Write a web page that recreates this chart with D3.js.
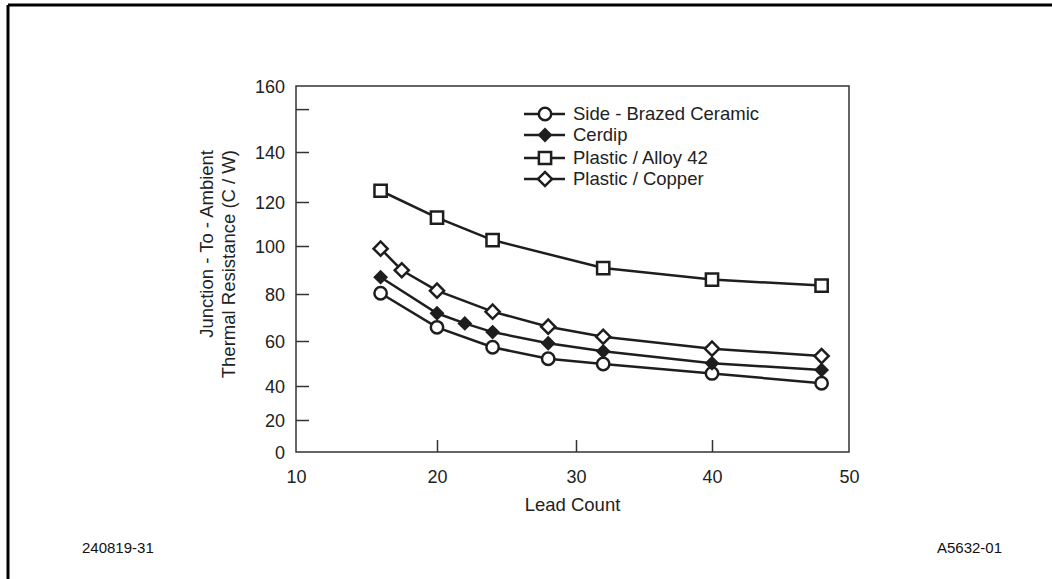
<!DOCTYPE html>
<html>
<head>
<meta charset="utf-8">
<script src="https://cdn.jsdelivr.net/npm/d3@7"></script>
<style>
  body { margin: 0; background: #fff; }
  svg { display: block; font-family: 'Liberation Sans', Arial, sans-serif; }
</style>
</head>
<body>
<script>
// lead counts and thermal resistance (C / W)
let ceramicLeads = [16, 20, 24, 28, 32, 40, 48]
let ceramicVals = [80.3, 65.8, 57.2, 52.1, 49.8, 45.6, 41.2]

let cerdipLeads = [16, 20, 22, 24, 28, 32, 40, 48]
let cerdipVals = [87, 71.8, 67.5, 63.8, 59, 55.4, 50.1, 47.1]

let alloyLeads = [16, 20, 24, 32, 40, 48]
let alloyVals = [124.5, 112.9, 102.7, 90.8, 86, 83.5]

let copperLeads = [16, 17.5, 20, 24, 28, 32, 40, 48]
let copperVals = [98.9, 89.9, 81.4, 72.5, 66.1, 61.8, 56.6, 53.3]

let seriesNames = ['Side - Brazed Ceramic', 'Cerdip', 'Plastic / Alloy 42', 'Plastic / Copper']

let xTicks = [10, 20, 30, 40, 50]
let yTicks = [0, 20, 40, 60, 80, 100, 120, 140, 160]
let yExtraTick = 153

let width = 1052,
  height = 579

let svg = d3.select('body')
  .append('svg')
  .attr('width', width)
  .attr('height', height)

let ink = '#1e1e1e'

// page frame (only top and left edges show)
svg.append('line')
  .attr('x1', 8).attr('x2', width).attr('y1', 5).attr('y2', 5)
  .attr('stroke', '#000').attr('stroke-width', 3)
svg.append('line')
  .attr('x1', 8).attr('x2', 8).attr('y1', 5).attr('y2', height)
  .attr('stroke', '#000').attr('stroke-width', 3)

// the original axes are hand drawn, tick spacing is not even
let x = d3.scaleLinear()
  .domain(xTicks)
  .range([296, 437, 576, 712, 849])

let y = d3.scaleLinear()
  .domain(yTicks)
  .range([452, 420, 386, 341, 294, 246, 202, 152, 86])

let plot = svg.append('g')

// box
plot.append('rect')
  .attr('x', x(10))
  .attr('y', y(160))
  .attr('width', x(50) - x(10))
  .attr('height', y(0) - y(160))
  .attr('fill', 'none')
  .attr('stroke', '#333')
  .attr('stroke-width', 1.5)

let xAxis = plot.append('g')
  .attr('transform', `translate(0, ${y(0)})`)
  .call(d3.axisBottom(x).tickValues(xTicks).tickSize(-12).tickPadding(18).tickFormat(d3.format('d')))
xAxis.select('.domain').remove()
xAxis.selectAll('line').attr('stroke', '#333').attr('stroke-width', 1.5)
  .filter(d => d === 10 || d === 50).remove()
xAxis.selectAll('text')
  .attr('font-size', '18px')
  .attr('fill', '#222')
  .attr('font-family', "'Liberation Sans', Arial, sans-serif")

let yAxis = plot.append('g')
  .attr('transform', `translate(${x(10)}, 0)`)
  .call(d3.axisLeft(y).tickValues(yTicks.concat([yExtraTick])).tickSize(-13).tickPadding(24)
    .tickFormat(d => d === yExtraTick ? '' : d))
yAxis.select('.domain').remove()
yAxis.selectAll('line').attr('stroke', '#333').attr('stroke-width', 1.5)
  .filter(d => d === 0 || d === 160).remove()
yAxis.selectAll('text')
  .attr('font-size', '18px')
  .attr('fill', '#222')
  .attr('dy', '0.36em')
  .attr('x', -11)
  .attr('font-family', "'Liberation Sans', Arial, sans-serif")

// axis titles
svg.append('text')
  .attr('x', (x(10) + x(50)) / 2)
  .attr('y', 511)
  .attr('text-anchor', 'middle')
  .attr('font-size', '18.5px')
  .attr('fill', '#222')
  .text('Lead Count')

let yTitle = svg.append('g')
  .attr('transform', 'translate(0, 150) rotate(-90)')
yTitle.append('text')
  .attr('x', 0).attr('y', 213)
  .attr('text-anchor', 'end')
  .attr('font-size', '18.5px')
  .attr('fill', '#222')
  .text('Junction - To - Ambient')
yTitle.append('text')
  .attr('x', 0).attr('y', 235)
  .attr('text-anchor', 'end')
  .attr('font-size', '18.5px')
  .attr('fill', '#222')
  .text('Thermal Resistance (C / W)')

// series
let series = [
  { name: seriesNames[0], leads: ceramicLeads, vals: ceramicVals, shape: d3.symbolCircle, size: 120, rot: 0, fill: '#fff' },
  { name: seriesNames[1], leads: cerdipLeads, vals: cerdipVals, shape: d3.symbolSquare, size: 64, rot: 45, fill: ink },
  { name: seriesNames[2], leads: alloyLeads, vals: alloyVals, shape: d3.symbolSquare, size: 150, rot: 0, fill: '#fff' },
  { name: seriesNames[3], leads: copperLeads, vals: copperVals, shape: d3.symbolSquare, size: 100, rot: 45, fill: '#fff' }
]

let line = d3.line()
  .x(d => x(d[0]))
  .y(d => y(d[1]))

series.forEach(s => {
  let pts = s.leads.map((l, i) => [l, s.vals[i]])

  plot.append('path')
    .datum(pts)
    .attr('d', line)
    .attr('fill', 'none')
    .attr('stroke', ink)
    .attr('stroke-width', 2.5)

  plot.selectAll(null)
    .data(pts)
    .enter()
    .append('path')
    .attr('d', d3.symbol().type(s.shape).size(s.size))
    .attr('transform', d => `translate(${x(d[0])}, ${y(d[1])}) rotate(${s.rot})`)
    .attr('fill', s.fill)
    .attr('stroke', ink)
    .attr('stroke-width', 2.5)
})

// legend
let legend = svg.append('g')
  .attr('transform', 'translate(524, 114)')

series.forEach((s, i) => {
  let ly = [0, 21, 44, 65][i]
  legend.append('line')
    .attr('x1', 0).attr('x2', 41)
    .attr('y1', ly).attr('y2', ly)
    .attr('stroke', ink)
    .attr('stroke-width', 2.5)
  legend.append('path')
    .attr('d', d3.symbol().type(s.shape).size(s.size))
    .attr('transform', `translate(21, ${ly}) rotate(${s.rot})`)
    .attr('fill', s.fill)
    .attr('stroke', ink)
    .attr('stroke-width', 2.5)
  legend.append('text')
    .attr('x', 49)
    .attr('y', ly)
    .attr('dy', '0.35em')
    .attr('font-size', '18.5px')
    .attr('fill', '#222')
    .text(s.name)
})

// figure ids in the corners
svg.append('text')
  .attr('x', 82).attr('y', 553)
  .attr('font-size', '15px')
  .attr('font-family', "'Liberation Sans Narrow', 'Liberation Sans', Arial, sans-serif")
  .attr('fill', '#111')
  .text('240819-31')
svg.append('text')
  .attr('x', 1002).attr('y', 553)
  .attr('text-anchor', 'end')
  .attr('font-size', '15px')
  .attr('font-family', "'Liberation Sans Narrow', 'Liberation Sans', Arial, sans-serif")
  .attr('fill', '#111')
  .text('A5632-01')
</script>
</body>
</html>
